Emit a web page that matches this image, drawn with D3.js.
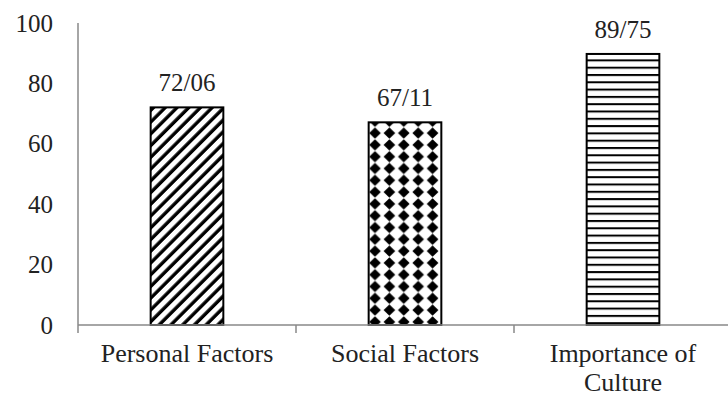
<!DOCTYPE html>
<html lang="en">
<head>
  <meta charset="utf-8">
  <title>Factors</title>
  <script src="https://d3js.org/d3.v7.min.js"></script>
  <style>
    body { margin: 0; background: #fff; }
  </style>
</head>
<body>
  <svg class="chart"></svg>
  <script>
  const categories = ["Personal Factors", "Social Factors", "Importance of Culture"];
  const values = [72.06, 67.11, 89.75];
  const valueLabels = ["72/06", "67/11", "89/75"];
  const yTicks = [0, 20, 40, 60, 80, 100];
  const fills = ["url(#diag)", "url(#diamond)", "url(#hstripe)"];

  const FONT = "'Liberation Serif', 'Times New Roman', Times, serif";
  const width = 728, height = 398;
  const margins = { top: 23, bottom: 72, left: 78, right: -4 };

  const svg = d3.select(".chart").attr("width", width).attr("height", height)
    .attr("font-family", FONT);

  const xScale = d3.scaleBand()
    .domain(categories)
    .range([margins.left, width - margins.right])
    .padding(0);
  const yScale = d3.scaleLinear()
    .domain([0, 100])
    .range([height - margins.bottom - 1, margins.top]);

  // patterns
  const defs = svg.append("defs");
  const diag = defs.append("pattern").attr("id", "diag")
    .attr("patternUnits", "userSpaceOnUse")
    .attr("width", 8.3).attr("height", 8.3)
    .attr("patternTransform", "rotate(45)");
  diag.append("rect").attr("width", 8.3).attr("height", 8.3).attr("fill", "#fff");
  diag.append("line").attr("x1", 2).attr("x2", 2).attr("y1", 0).attr("y2", 8.3)
    .attr("stroke", "#000").attr("stroke-width", 3.4);

  const dia = defs.append("pattern").attr("id", "diamond")
    .attr("patternUnits", "userSpaceOnUse")
    .attr("x", 367.8).attr("y", 127.2)
    .attr("width", 14.4).attr("height", 11.8);
  dia.append("rect").attr("width", 14.4).attr("height", 11.8).attr("fill", "#fff");
  dia.append("polygon")
    .attr("points", "7.2,0.2 13,5.9 7.2,11.6 1.4,5.9")
    .attr("fill", "#000");

  const hs = defs.append("pattern").attr("id", "hstripe")
    .attr("patternUnits", "userSpaceOnUse")
    .attr("y", 1)
    .attr("width", 10).attr("height", 7.3);
  hs.append("rect").attr("width", 10).attr("height", 7.3).attr("fill", "#fff");
  hs.append("line").attr("x1", 0).attr("x2", 10).attr("y1", 1).attr("y2", 1)
    .attr("stroke", "#000").attr("stroke-width", 2);

  // y axis
  const yAxis = d3.axisLeft(yScale).tickValues(yTicks).tickSize(0).tickPadding(25);
  const gy = svg.append("g").attr("id", "y-axis")
    .attr("transform", `translate(${margins.left},0)`)
    .call(yAxis)
    .attr("font-family", FONT)
    .attr("font-size", 25);
  gy.select(".domain").remove();
  gy.selectAll("text").attr("fill", "#222");
  svg.append("line")
    .attr("x1", margins.left).attr("x2", margins.left)
    .attr("y1", yScale(100)).attr("y2", yScale(0) + 8)
    .attr("stroke", "#888").attr("stroke-width", 1.5);

  // bars
  const barW = xScale.bandwidth() / 3;
  svg.selectAll("rect.bar")
    .data(categories).enter()
    .append("rect")
    .attr("class", "bar")
    .attr("x", (d) => xScale(d) + xScale.bandwidth() / 2 - barW / 2)
    .attr("y", (d, i) => yScale(values[i]))
    .attr("width", barW)
    .attr("height", (d, i) => yScale(0) - yScale(values[i]))
    .attr("fill", (d, i) => fills[i])
    .attr("stroke", "#000")
    .attr("stroke-width", 2);

  svg.selectAll("text.val")
    .data(categories).enter()
    .append("text")
    .attr("class", "val")
    .attr("x", (d) => xScale(d) + xScale.bandwidth() / 2)
    .attr("y", (d, i) => yScale(values[i]) - 16)
    .attr("text-anchor", "middle")
    .attr("font-size", 25)
    .attr("fill", "#222")
    .text((d, i) => valueLabels[i]);

  // x axis
  svg.append("line")
    .attr("x1", margins.left).attr("x2", width)
    .attr("y1", yScale(0)).attr("y2", yScale(0))
    .attr("stroke", "#888").attr("stroke-width", 1.5);
  svg.selectAll("line.xtick")
    .data(categories.slice(1)).enter()
    .append("line")
    .attr("class", "xtick")
    .attr("x1", (d) => xScale(d)).attr("x2", (d) => xScale(d))
    .attr("y1", yScale(0)).attr("y2", yScale(0) + 8)
    .attr("stroke", "#888").attr("stroke-width", 1.5);

  const xLabels = svg.selectAll("text.cat")
    .data(categories).enter()
    .append("text")
    .attr("class", "cat")
    .attr("text-anchor", "middle")
    .attr("x", (d) => xScale(d) + xScale.bandwidth() / 2)
    .attr("y", yScale(0) + 37)
    .attr("font-size", 26)
    .attr("fill", "#222");
  xLabels.each(function(d) {
    const el = d3.select(this);
    const words = d.split(" ");
    let line = [];
    let ts = el.append("tspan").attr("x", el.attr("x")).attr("dy", 0);
    words.forEach((w) => {
      line.push(w);
      ts.text(line.join(" "));
      if (ts.node().getComputedTextLength() > 200 && line.length > 1) {
        line.pop();
        ts.text(line.join(" "));
        line = [w];
        ts = el.append("tspan").attr("x", el.attr("x")).attr("dy", 29).text(w);
      }
    });
  });
  </script>
</body>
</html>
